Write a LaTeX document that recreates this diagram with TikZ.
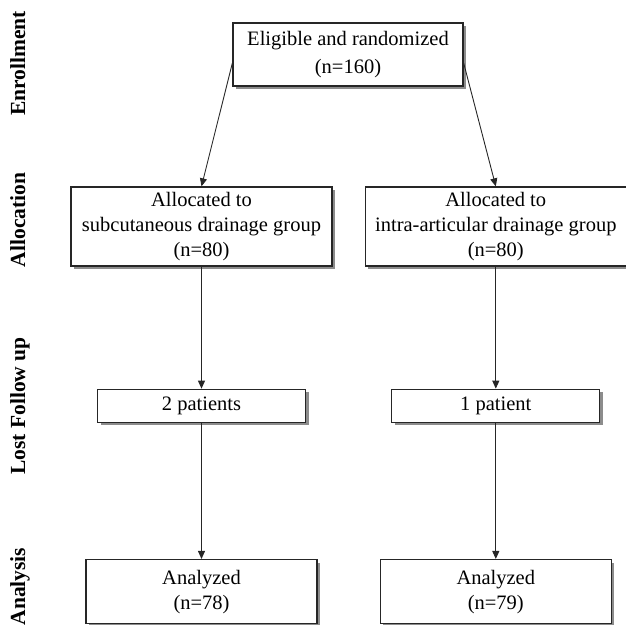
\documentclass[tikz,border=0pt]{standalone}
\usepackage{fontspec}
\setmainfont{Liberation Serif}
\usetikzlibrary{positioning,shadows,arrows.meta}

\begin{document}
\begin{tikzpicture}[x=1pt, y=1pt,
        block/.style={draw=black!85, line width=1.3pt, rectangle, align=center, fill=white, inner sep=0pt,
            font=\fontsize{20.5}{25}\selectfont,
            drop shadow={shadow xshift=3pt, shadow yshift=-3pt, fill=black!45, opacity=1}},
        stage/.style={rotate=90, anchor=base, font=\fontsize{21.5}{24}\selectfont\bfseries},
        link/.style={draw=black!85, line width=0.9pt},
        >={Triangle[length=8pt,width=7pt]}
    ]
        \useasboundingbox (0,0) rectangle (626,-624);

        % stage labels
        \node [stage] (enrolllbl) at (25,-63.5) {Enrollment};
        \node [stage] (alloclbl) at (25,-220) {Allocation};
        \node [stage] (lostlbl) at (25,-406) {Lost Follow up};
        \node [stage] (analysislbl) at (25,-586.5) {Analysis};

        \node [block, minimum width=230pt, minimum height=63pt] (elig) at (348,-54.5) {Eligible and randomized\\[3pt](n=160)};
        \node [block, minimum width=261pt, minimum height=79pt] (subc) at (201.5,-226.5) {Allocated to\\subcutaneous drainage group\\(n=80)};
        \node [block, minimum width=261pt, minimum height=79pt, right=32pt of subc] (intra) {Allocated to\\intra-articular drainage group\\(n=80)};
        \node [block, minimum width=208pt, minimum height=33pt, below=122pt of subc] (lostsubc) {2 patients};
        \node [block, minimum width=208pt, minimum height=33pt, below=122pt of intra] (lostintra) {1 patient};
        \node [block, minimum width=231pt, minimum height=64pt, below=136pt of lostsubc] (anasubc) {Analyzed\\(n=78)};
        \node [block, minimum width=231pt, minimum height=64pt, below=136pt of lostintra] (anaintra) {Analyzed\\(n=79)};

        \draw [link, ->] ([yshift=-8.5pt]elig.west) -- (subc.north);
        \draw [link, ->] ([yshift=-8.5pt]elig.east) -- (intra.north);
        \draw [link, ->] (subc) -- (lostsubc);
        \draw [link, ->] (intra) -- (lostintra);
        \draw [link, ->] (lostsubc) -- (anasubc);
        \draw [link, ->] (lostintra) -- (anaintra);
    \end{tikzpicture}
\end{document}
